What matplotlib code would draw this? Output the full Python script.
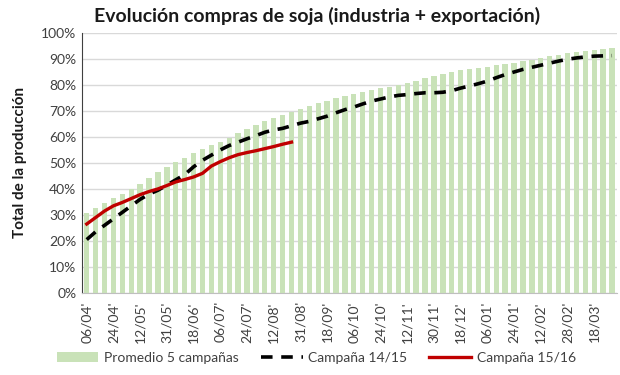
import numpy as np
import matplotlib
matplotlib.use('Agg')
import matplotlib.pyplot as plt
from matplotlib.ticker import PercentFormatter

plt.rcParams['font.family'] = ['Lato', 'DejaVu Sans']

# ==================== datos ====================
# etiquetas del eje x (una cada 3 registros)
tick_labels = ["06/04'", "24/04'", "12/05'", "31/05'", "18/06'", "06/07'", "24/07'",
               "12/08'", "31/08'", "18/09'", "06/10'", "24/10'", "12/11'", "30/11'",
               "18/12'", "06/01'", "24/01'", "12/02'", "28/02'", "18/03'"]

# Promedio 5 campañas (%)
promedio = [30.8, 32.5, 34.5, 36.5, 38.2, 40.0, 42.0, 44.3, 46.5, 48.5,
            50.3, 52.0, 53.8, 55.3, 56.8, 58.0, 59.5, 61.5, 63.0, 64.5,
            66.0, 67.2, 68.5, 69.6, 70.8, 72.0, 73.0, 74.0, 74.8, 75.7,
            76.6, 77.4, 78.0, 78.7, 79.4, 80.0, 80.8, 81.7, 82.6, 83.4,
            84.2, 85.0, 85.7, 86.2, 86.7, 87.1, 87.6, 88.1, 88.6, 89.1,
            89.7, 90.3, 91.0, 91.7, 92.3, 92.8, 93.2, 93.6, 94.0, 94.4]

# Campaña 14/15 (%)
campana_1415 = [20.5, 23.5, 26.0, 28.5, 31.0, 33.5, 36.0, 38.0, 39.5, 41.5,
                43.5, 45.5, 48.5, 51.0, 53.0, 55.0, 56.7, 58.0, 59.3, 60.5,
                61.8, 62.7, 63.3, 64.3, 65.3, 66.0, 67.0, 68.0, 69.3, 70.5,
                71.5, 72.7, 73.8, 74.6, 75.4, 76.0, 76.3, 76.7, 77.0, 77.0,
                77.2, 77.8, 78.8, 79.6, 80.5, 81.5, 82.8, 84.0, 85.0, 86.0,
                86.8, 87.6, 88.4, 89.2, 89.9, 90.4, 90.8, 91.1, 91.2, 91.3]

# Campaña 15/16 (%)
campana_1516 = [26.5, 29.0, 31.5, 33.5, 34.8, 36.3, 37.8, 39.0, 40.0, 41.3,
                42.7, 43.6, 44.6, 46.0, 48.8, 50.5, 52.0, 53.2, 54.0, 54.7,
                55.5, 56.3, 57.2, 58.0]

# ==================== gráfico ====================
fig, ax = plt.subplots(figsize=(6.2, 3.75), dpi=100)
fig.subplots_adjust(left=0.132, right=0.995, top=0.912, bottom=0.219)

x = np.arange(len(promedio))
barras = ax.bar(x, promedio, width=0.6, color='#c9e2b8', label='Promedio 5 campañas', zorder=2)
l1, = ax.plot(x, campana_1415, color='black', lw=2.6, dashes=(3.2, 2.4),
              label='Campaña 14/15', zorder=3)
l2, = ax.plot(np.arange(len(campana_1516)), campana_1516, color='#c00000', lw=2.4,
              label='Campaña 15/16', zorder=4)

ax.set_xlim(-0.55, len(promedio) - 0.45)
ax.set_ylim(0, 100)
ax.yaxis.set_major_formatter(PercentFormatter(decimals=0))
ax.set_yticks(np.arange(0, 101, 10))
ax.set_xticks(x[::3])
ax.set_xticklabels(tick_labels, rotation=90, fontsize=10, color='#404040')
ax.tick_params(axis='y', labelsize=10, colors='#404040', length=0, pad=4)
ax.tick_params(axis='x', length=0, pad=6)
ax.grid(axis='y', color='#d9d9d9', lw=1, zorder=0)
ax.set_axisbelow(True)

for s in ['top', 'right']:
    ax.spines[s].set_visible(False)
ax.spines['left'].set_color('#404040')
ax.spines['bottom'].set_color('#bfbfbf')

ax.set_title('Evolución compras de soja (industria + exportación)',
             fontsize=14, fontweight='bold', color='#1a1a1a', pad=8, x=0.44)
ax.set_ylabel('Total de la producción', fontsize=11, fontweight='bold',
              color='#1a1a1a', labelpad=10)

fig.legend(handles=[barras, l1, l2], loc='center', bbox_to_anchor=(0.51, 0.045),
           ncol=3, frameon=False, fontsize=10, handlelength=3.0, columnspacing=1.6,
           handletextpad=0.4, labelcolor='#404040')

fig.savefig('out.png', dpi=100)
